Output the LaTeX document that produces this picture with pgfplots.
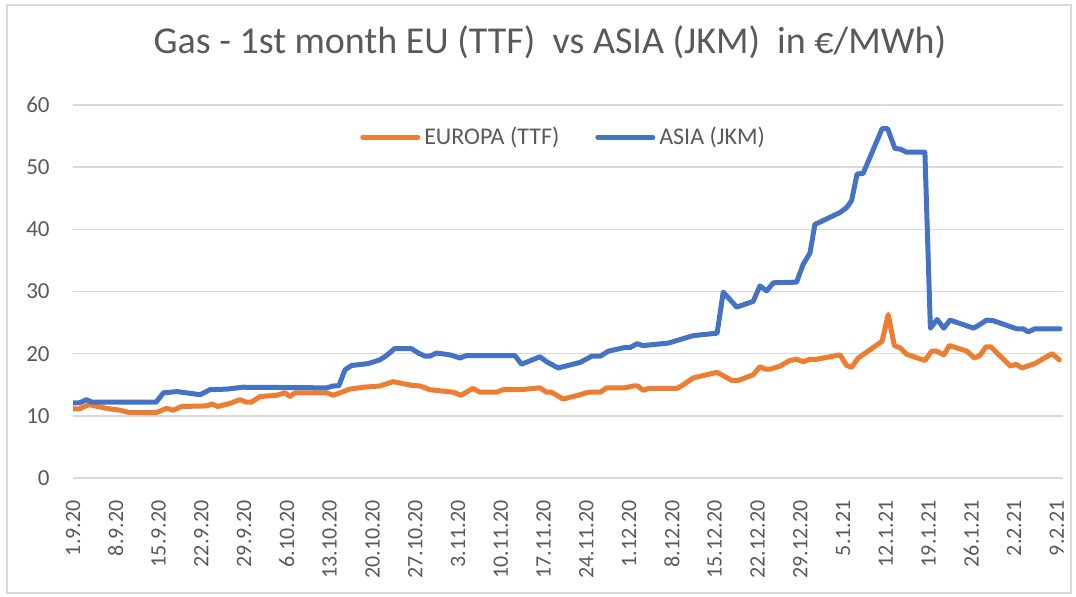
\documentclass[border=0pt]{standalone}
\usepackage{fontspec}
\setmainfont{Carlito}
\usepackage{pgfplots}
\pgfplotsset{compat=1.18}
\definecolor{ttf}{RGB}{237,125,49}
\definecolor{jkm}{RGB}{68,114,196}
\definecolor{txt}{RGB}{89,89,89}
\definecolor{gridgray}{RGB}{217,217,217}

\begin{document}
\begin{tikzpicture}[x=0.5pt, y=0.5pt]
\path[use as bounding box] (0,0) rectangle (1076,597);
\draw[gridgray, line width=0.75pt] (7,4) rectangle (1071,592);
\node[anchor=base, text=txt, font=\fontsize{19pt}{22pt}\selectfont, inner sep=0pt]
  at (550,543.5) {Gas - 1st month EU (TTF)~ vs ASIA (JKM)~ in €/MWh)};
\begin{axis}[
    at={(36.5pt,59.5pt)}, anchor=south west,
    scale only axis, width=495pt, height=186.5pt,
    xmin=0, xmax=162, ymin=0, ymax=60,
    ytick={0,10,...,60},
    xtick={0,7,...,161},
    xticklabels={1.9.20,8.9.20,15.9.20,22.9.20,29.9.20,6.10.20,13.10.20,20.10.20,27.10.20,3.11.20,10.11.20,17.11.20,24.11.20,1.12.20,8.12.20,15.12.20,22.12.20,29.12.20,5.1.21,12.1.21,19.1.21,26.1.21,2.2.21,9.2.21},
    ymajorgrids=true,
    xmajorgrids=false,
    grid style={draw=gridgray, line width=0.75pt},
    axis line style={draw=none},
    tick style={draw=none},
    major tick length=0pt,
    /pgf/number format/assume math mode=true,
    yticklabel style={anchor=east, inner sep=0pt, inner xsep=11.5pt, text=txt, font=\fontsize{11.5pt}{13pt}\selectfont},
    xticklabel style={rotate=90, anchor=east, inner sep=0pt, inner xsep=11pt, text=txt, font=\fontsize{11pt}{13pt}\selectfont},
    legend columns=2,
    legend style={draw=none, fill=none, at={(0.4965,0.914)}, anchor=center,
      text=txt, font=\fontsize{12pt}{14pt}\selectfont,
      /tikz/every even column/.append style={column sep=16pt}},
    legend image code/.code={\draw[#1] (0pt,0pt) -- (27.5pt,0pt);},
    every axis plot/.append style={line width=2.5pt, line cap=round, line join=round},
]
\addplot[ttf] coordinates {
(0,11.1)(1,11.1)(2.6,11.8)(5.5,11.2)(7.7,10.9)(9.3,10.5)(13.6,10.5)(15.3,11.2)
(16.4,10.9)(17.8,11.5)(21.9,11.6)(22.7,11.9)(23.7,11.5)(25.7,12.0)(27.3,12.6)
(28.4,12.2)(29.2,12.2)(30.6,13.1)(33.3,13.3)(34.7,13.7)(35.5,13.1)(36.3,13.7)
(41.5,13.7)(42.6,13.3)(45.3,14.3)(47.5,14.6)(50.2,14.8)(52.4,15.5)(55.4,14.9)
(56.8,14.8)(58.4,14.2)(62.2,13.8)(63.5,13.3)(65.4,14.4)(66.6,13.8)(69.3,13.8)
(70.4,14.2)(73.2,14.2)(76.4,14.5)(77.5,13.8)(78.3,13.8)(80.2,12.7)(83.0,13.4)
(84.3,13.8)(86.3,13.8)(87.3,14.5)(90.3,14.5)(91.7,14.8)(92.4,14.8)(93.3,14.1)
(94.2,14.4)(98.8,14.4)(99.9,15.0)(101.5,16.1)(105.4,17.0)(107.8,15.7)(108.9,15.7)
(111.3,16.6)(112.4,17.9)(113.3,17.5)(114.1,17.5)(115.7,18.0)(117.3,18.9)(118.4,19.1)
(119.5,18.7)(120.6,19.1)(121.7,19.1)(125.5,19.8)(126.6,18.1)(127.4,17.8)(128.5,19.3)
(132.4,22.0)(133.4,26.3)(134.4,21.3)(135.4,20.9)(136.4,19.9)(139.4,18.9)(140.5,20.4)
(141.3,20.4)(142.5,19.8)(143.4,21.3)(146.3,20.4)(147.5,19.3)(148.4,19.7)(149.4,21.1)
(150.2,21.1)(153.4,18.0)(154.3,18.3)(155.3,17.7)(157.4,18.4)(160.2,20.0)(161.4,19.0)
};
\addlegendentry{EUROPA (TTF)}
\addplot[jkm] coordinates {
(0,12.1)(1.1,12.1)(2.2,12.6)(3.1,12.2)(13.6,12.2)(14.8,13.7)(17.0,13.9)(20.8,13.4)
(22.4,14.2)(25.2,14.3)(27.8,14.6)(41.5,14.5)(42.6,14.8)(43.5,14.8)(44.5,17.4)
(45.6,18.1)(48.3,18.4)(50.2,19.0)(51.3,19.7)(52.6,20.8)(55.4,20.8)(56.5,20.1)
(57.6,19.6)(58.4,19.6)(59.5,20.1)(61.7,19.8)(63.3,19.3)(64.4,19.7)(72.3,19.7)
(73.4,18.3)(76.4,19.5)(77.5,18.7)(79.4,17.7)(83.0,18.6)(84.9,19.6)(86.3,19.6)
(87.6,20.4)(90.3,21.0)(91.2,21.0)(92.3,21.6)(93.3,21.3)(97.4,21.7)(101.5,22.9)
(105.4,23.3)(106.4,29.9)(108.6,27.5)(111.3,28.4)(112.4,30.9)(113.5,30.1)(114.6,31.4)
(118.4,31.5)(119.5,34.4)(120.6,36.2)(121.4,40.8)(122.3,41.2)(125.5,42.7)(126.6,43.5)
(127.4,44.6)(128.3,48.9)(129.3,49.0)(132.4,56.2)(133.3,56.2)(134.5,53.0)(135.4,52.9)
(136.4,52.4)(139.4,52.4)(140.3,24.1)(141.4,25.5)(142.5,24.1)(143.5,25.4)(147.4,24.1)
(148.4,24.7)(149.5,25.4)(150.6,25.3)(154.4,24.0)(155.5,24.0)(156.3,23.5)(157.4,24.0)
(161.5,24.0)
};
\addlegendentry{ASIA (JKM)}
\end{axis}
\end{tikzpicture}
\end{document}
